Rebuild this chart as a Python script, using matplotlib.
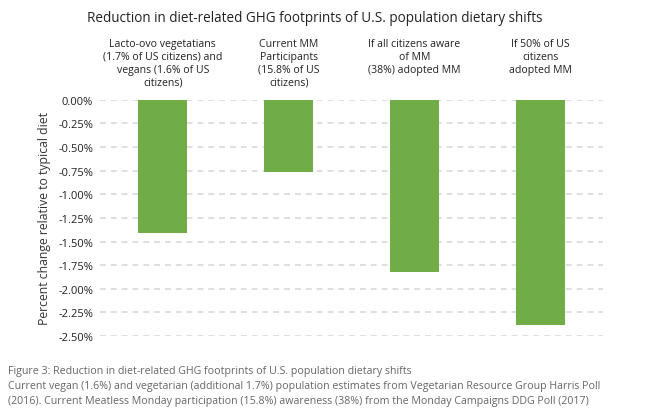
import matplotlib
matplotlib.use("Agg")
import matplotlib.pyplot as plt
from matplotlib.ticker import FuncFormatter

# chart data
categories = ["Lacto-ovo vegetatians\n(1.7% of US citizens) and\nvegans (1.6% of US\ncitizens)",
              "Current MM\nParticipants\n(15.8% of US\ncitizens)",
              "If all citizens aware\nof MM\n(38%) adopted MM",
              "If 50% of US\ncitizens\nadopted MM"]
values = [-1.41, -0.76, -1.82, -2.38]
yticks = [0, -0.25, -0.5, -0.75, -1.0, -1.25, -1.5, -1.75, -2.0, -2.25, -2.5]

title = "Reduction in diet-related GHG footprints of U.S. population dietary shifts"
caption = ("Figure 3: Reduction in diet-related GHG footprints of U.S. population dietary shifts\n"
           "Current vegan (1.6%) and vegetarian (additional 1.7%) population estimates from Vegetarian Resource Group Harris Poll\n"
           "(2016). Current Meatless Monday participation (15.8%) awareness (38%) from the Monday Campaigns DDG Poll (2017)")

plt.rcParams['font.family'] = ['Open Sans', 'DejaVu Sans']

fig = plt.figure(figsize=(6.45, 4.10), dpi=100)
ax = fig.add_axes([0.155, 0.178, 0.78, 0.576])

x = range(len(values))
ax.bar(x, values, width=0.39, color='#70ad47', zorder=2)

ax.set_ylim(-2.5, 0)
ax.set_xlim(-0.5, len(values) - 0.5)
ax.set_yticks(yticks)
ax.yaxis.set_major_formatter(FuncFormatter(lambda v, p: "%.2f%%" % v))
ax.tick_params(axis='y', length=0, pad=5, labelsize=8, colors='#222222')
ax.set_xticks([])
ax.yaxis.grid(True, color='#d9d9d9', linestyle=(0, (3.5, 3)), linewidth=1.2, zorder=0)
ax.set_axisbelow(True)
for s in ax.spines.values():
    s.set_visible(False)
ax.set_ylabel("Percent change relative to typical diet", fontsize=8.8, color='#333333', labelpad=5)

# category labels above the bars
for i, lab in enumerate(categories):
    ax.text(i, 1.0 + 0.262, lab, transform=ax.get_xaxis_transform(), ha='center', va='top',
            fontsize=7.6, color='#222222', linespacing=1.25)

fig.text(0.488, 0.955, title, ha='center', va='center', fontsize=9.75, color='#222222')
fig.text(0.012, 0.008, caption, ha='left', va='bottom', fontsize=7.7, color='#666666', linespacing=1.5)

fig.savefig("out.png", dpi=100, facecolor='white')
